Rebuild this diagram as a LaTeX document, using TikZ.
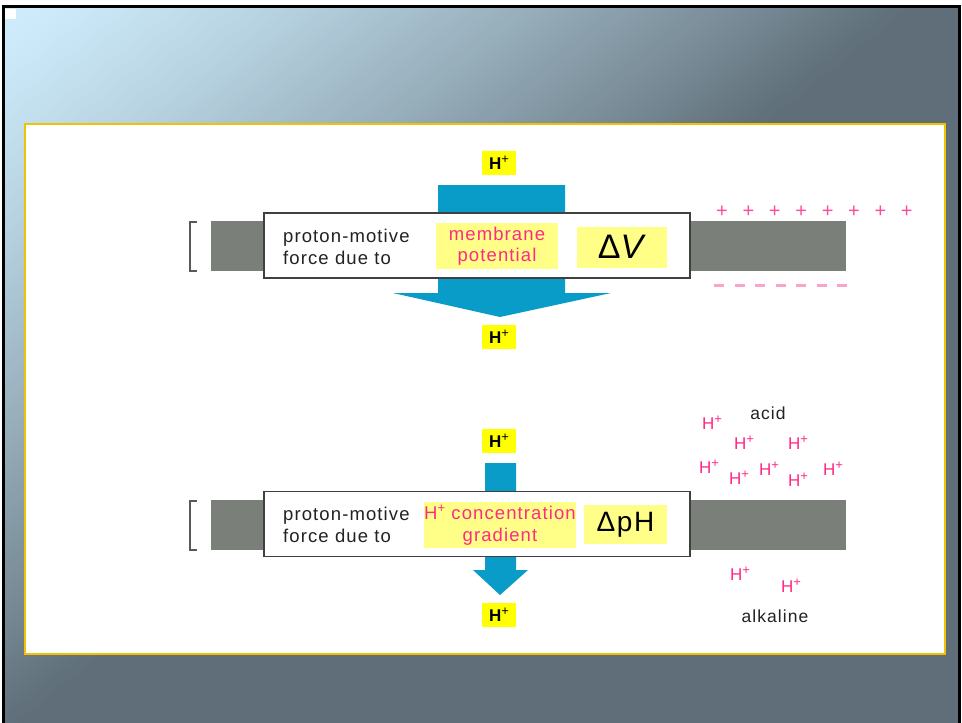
\documentclass[tikz,border=0pt]{standalone}
\usepackage{fontspec}
\setmainfont{Liberation Sans}
\newfontfamily\spacedsans[LetterSpace=6]{Liberation Sans}
\definecolor{bglight}{HTML}{CDEBFB}
\definecolor{bgdark}{HTML}{5F6E78}
\definecolor{panelline}{HTML}{F2C200}
\definecolor{membranegray}{HTML}{7B7F7A}
\definecolor{pumpblue}{HTML}{0A9CC8}
\definecolor{hlyellow}{HTML}{FFFF00}
\definecolor{softyellow}{HTML}{FFFF88}
\definecolor{ionpink}{HTML}{FF2A86}
\definecolor{chargepink}{HTML}{FF4A9C}
\definecolor{dashpink}{HTML}{FAA4CC}
\definecolor{inkgray}{HTML}{222222}
\newcommand\hionlabel{\textbf{H}\raisebox{0.38em}{\fontsize{13}{13}\selectfont +}}
\newcommand\hionpink{H\raisebox{0.38em}{\fontsize{13}{13}\selectfont +}}
\tikzset{
  boxframe/.style={draw=black!75, line width=1.5pt, fill=white, inner sep=0pt},
  caption/.style={anchor=base west, align=left, inner sep=0pt, text=inkgray,
    font=\spacedsans\fontsize{18.5}{22}\selectfont},
  pinklabel/.style={fill=softyellow, inner sep=0pt, align=center, text=ionpink,
    font=\spacedsans\fontsize{18.5}{21.5}\selectfont},
  deltalabel/.style={fill=softyellow, inner sep=0pt, text=black},
  hlabel/.style={fill=hlyellow, inner sep=0pt, minimum width=34pt, minimum height=24pt,
    text=black, font=\fontsize{17}{17}\selectfont},
  ion/.style={inner sep=0pt, text=ionpink, font=\fontsize{17}{17}\selectfont},
  sidetext/.style={inner sep=0pt, text=inkgray, font=\spacedsans\fontsize{17.5}{17.5}\selectfont},
  bracketline/.style={draw=black!65, line width=1.4pt},
  membrane/.style={fill=membranegray},
  pump/.style={fill=pumpblue}
}
\begin{document}
\begin{tikzpicture}[x=1pt,y=-1pt]
\useasboundingbox (0,0) rectangle (962,723);
\fill[white] (0,0) rectangle (962,723);

% diagonal background gradient, light at the top left corner
\begin{scope}
  \clip (3,6) rectangle (960,723);
  \fill[bglight] (0,0) rectangle (962,723);
  \foreach \s in {46,52,...,922} {
    \pgfmathsetmacro\p{100*pow((\s-40)/880,1.25)}
    \colorlet{bandc}{bgdark!\p!bglight}
    \fill[bandc] (-10,{(\s+10)/1.25}) -- (1000,{(\s-1000)/1.25}) -- (1000,800) -- (-10,800) -- cycle;
  }
\end{scope}
\draw[line width=2.5pt, black] (3.5,730) -- (3.5,6.5) -- (959.5,6.5) -- (959.5,730);
\fill[white] (5,9) rectangle (16,19);

% white panel
\draw[panelline, line width=1.5pt, fill=white] (25,124) rectangle (945,654);

% ---------- membrane potential ----------
\fill[membrane] (211,221) rectangle (846,271);
\draw[bracketline] (197,222) -- (190,222) -- (190,271) -- (197,271);
\fill[pump] (438,185) -- (565,185) -- (565,293) -- (611,293) -- (500,317)
  -- (393,293) -- (438,293) -- cycle;
\node[boxframe, minimum width=426pt, minimum height=65pt] (boxV) at (477,245.5) {};
\node[caption] (capV) at (283,264) {proton-motive\\force due to};
\node[pinklabel, minimum width=122pt, minimum height=46pt] (potV) at (497,246)
  {membrane\\potential};
\node[deltalabel, minimum width=90pt, minimum height=41pt,
  font=\fontsize{34}{34}\selectfont] (dV) at (622,247) {Δ\textit{V}};
\node[hlabel] (hVin) at (499,163) {\hionlabel};
\node[hlabel] (hVout) at (499,337) {\hionlabel};
\foreach \i in {0,...,7}
  \node[inner sep=0pt, text=chargepink, font=\fontsize{20}{20}\selectfont]
    (plus\i) at ({722+26.4*\i},212) {+};
\foreach \i in {0,...,6}
  \fill[dashpink] ({714+20.5*\i},284.3) rectangle ({724+20.5*\i},286.7);

% ---------- concentration gradient ----------
\fill[membrane] (211,500) rectangle (846,550);
\draw[bracketline] (197,501) -- (190,501) -- (190,550) -- (197,550);
\fill[pump] (485,463) -- (516,463) -- (516,570) -- (528,570) -- (500,595)
  -- (473,570) -- (485,570) -- cycle;
\node[boxframe, minimum width=426pt, minimum height=65pt] (boxP) at (477,524) {};
\node[caption] (capP) at (283,542) {proton-motive\\force due to};
\node[pinklabel, minimum width=146pt, minimum height=46pt] (potP) at (500,525)
  {\hionpink{} concentration\\gradient};
\node[deltalabel, minimum width=83pt, minimum height=39pt,
  font=\spacedsans\fontsize{28}{28}\selectfont] (dP) at (625.5,524.5) {ΔpH};
\node[hlabel] (hPin) at (499,441) {\hionlabel};
\node[hlabel] (hPout) at (499,615) {\hionlabel};

% acid side
\node[sidetext] (acid) at (768,413) {acid};
\node[ion] (a1) at (712,423) {\hionpink};
\node[ion] (a2) at (744,443) {\hionpink};
\node[ion] (a3) at (798,443) {\hionpink};
\node[ion] (a4) at (709,467) {\hionpink};
\node[ion] (a5) at (739,478) {\hionpink};
\node[ion] (a6) at (769,469) {\hionpink};
\node[ion] (a7) at (798,480) {\hionpink};
\node[ion] (a8) at (833,469) {\hionpink};
% alkaline side
\node[ion] (b1) at (740,574) {\hionpink};
\node[ion] (b2) at (791,586) {\hionpink};
\node[sidetext] (alk) at (775,616) {alkaline};
\end{tikzpicture}
\end{document}
